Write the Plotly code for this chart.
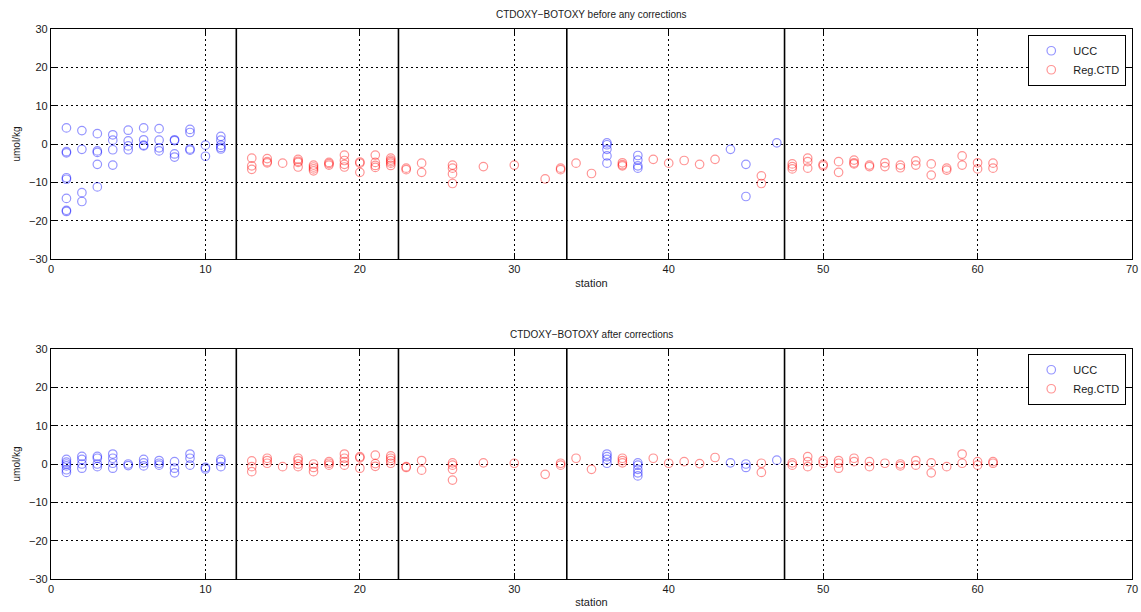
import plotly.graph_objects as go
from plotly.subplots import make_subplots

# ---------------- data (station, values) ----------------
ucc_before_stations = [1, 2, 3, 4, 5, 6, 7, 8, 9, 10, 11, 36, 38, 44, 45, 47]
ucc_before_values = [
    [4.2, -2.0, -2.3, -8.8, -9.2, -14.2, -17.3, -17.6],
    [3.5, -1.4, -12.7, -15.0],
    [2.7, -1.8, -2.2, -5.3, -11.2],
    [2.4, 1.0, -1.5, -5.5],
    [3.6, 0.8, -0.5, -1.5],
    [4.2, 1.1, -0.3, -0.5],
    [4.0, 1.0, -1.0, -1.8],
    [1.1, 0.9, -2.6, -3.4],
    [3.8, 3.0, -1.3, -1.6],
    [-0.3, -3.2],
    [2.0, 1.0, -0.3, -0.9, -1.3],
    [0.3, -0.2, -1.4, -3.1, -5.0],
    [-3.0, -4.2, -5.7, -6.3],
    [-1.4],
    [-5.3, -13.7],
    [0.3],
]
reg_before_stations = [13, 14, 15, 16, 17, 18, 19, 20, 21, 22, 23, 24, 26, 28, 30, 32,
                       33, 34, 35, 37, 39, 40, 41, 42, 43, 46, 48, 49, 50, 51, 52, 53,
                       54, 55, 56, 57, 58, 59, 60, 61]
reg_before_values = [
    [-3.7, -5.7, -6.6], [-3.8, -4.6, -4.9], [-5.0], [-4.0, -4.5, -4.8, -6.0],
    [-5.5, -6.0, -6.5, -7.0], [-4.8, -5.1, -5.5], [-2.9, -4.3, -5.3, -6.0],
    [-4.7, -5.0, -7.4], [-2.9, -4.8, -5.6, -6.1], [-3.7, -4.2, -4.6, -5.0, -5.6],
    [-6.3, -6.7], [-5.0, -7.4], [-5.5, -6.3, -7.8, -10.3], [-5.9], [-5.5], [-9.1],
    [-6.3, -6.7], [-5.0], [-7.7], [-4.9, -5.4, -5.7], [-4.0], [-5.0], [-4.3], [-5.3],
    [-4.0], [-8.3, -10.3], [-5.2, -5.9, -6.5], [-3.7, -4.6, -6.3], [-5.3, -5.7],
    [-4.6, -7.4], [-4.2, -4.9, -5.2], [-5.5, -5.9], [-4.9, -5.9], [-5.5, -6.2],
    [-4.4, -5.5], [-5.2, -8.1], [-6.3, -6.8], [-3.1, -5.5], [-4.9, -6.5], [-5.0, -6.3],
]

ucc_after_stations = [1, 2, 3, 4, 5, 6, 7, 8, 9, 10, 11, 36, 38, 44, 45, 47]
ucc_after_values = [
    [1.2, 0.5, 0.0, -0.5, -1.5, -2.2],
    [2.0, 1.2, 0.0, -1.1],
    [2.0, 1.5, 0.0, -0.7],
    [2.6, 1.5, 0.2, -1.1],
    [0.0, -0.4],
    [1.2, 0.3, -0.5],
    [0.9, 0.2, -0.3],
    [0.6, -1.1, -2.3],
    [2.6, 1.5, -0.3],
    [-0.9, -1.3],
    [1.2, 0.6, -0.7],
    [2.6, 1.9, 1.2, 0.2],
    [0.3, -0.3, -1.4, -2.3, -3.1],
    [0.3],
    [0.0, -0.9],
    [1.0],
]
reg_after_stations = reg_before_stations
reg_after_values = [
    [0.8, -0.7, -2.0], [1.5, 0.9, 0.2], [-0.7], [1.5, 0.9, 0.0, -0.7],
    [0.0, -0.9, -2.0], [0.6, 0.2, -0.3], [2.6, 1.5, 0.6, -0.3],
    [1.9, 1.6, -1.1], [2.3, 0.1, -0.6], [2.1, 1.5, 0.9, 0.2],
    [-0.7, -0.9], [0.9, -1.6], [0.3, -0.3, -1.4, -4.2], [0.3], [0.2], [-2.7],
    [0.2, -0.3], [1.5], [-1.4], [1.5, 0.9, 0.3], [1.5], [0.2], [0.6], [0.1],
    [1.7], [0.2, -2.2], [0.3, -0.3], [1.9, 0.6, -0.7], [0.9, 0.2],
    [0.9, 0.2, -1.1], [1.5, 0.6], [0.6, -0.7], [0.2], [0.0, -0.5],
    [0.9, -0.3], [0.3, -2.3], [-0.7], [2.6, 0.2], [0.6, -0.3], [0.6, 0.2],
]

group_boundaries = [12, 22.5, 33.4, 47.5]
titles = ["CTDOXY\u2212BOTOXY before any corrections", "CTDOXY\u2212BOTOXY after corrections"]
x_ticks = [0, 10, 20, 30, 40, 50, 60, 70]
y_ticks = [-30, -20, -10, 0, 10, 20, 30]
y_tick_text = ["\u221230", "\u221220", "\u221210", "0", "10", "20", "30"]


def expand(stations, values):
    xs, ys = [], []
    for s, vals in zip(stations, values):
        for v in vals:
            xs.append(s)
            ys.append(v)
    return xs, ys


BLUE = "rgba(0,0,255,0.42)"
RED = "rgba(255,0,0,0.42)"
FONT = "Liberation Sans, Arial, sans-serif"
TXT = "#1a1a1a"

fig = make_subplots(rows=2, cols=1, vertical_spacing=0.0)

panels = [
    (ucc_before_stations, ucc_before_values, reg_before_stations, reg_before_values, "legend"),
    (ucc_after_stations, ucc_after_values, reg_after_stations, reg_after_values, "legend2"),
]
for i, (us, uv, rs, rv, leg) in enumerate(panels, start=1):
    ux, uy = expand(us, uv)
    rx, ry = expand(rs, rv)
    fig.add_trace(go.Scatter(x=ux, y=uy, mode="markers", name="UCC", legend=leg,
                             marker=dict(symbol="circle-open", size=8.5, color=BLUE,
                                         line=dict(width=1.2, color=BLUE))), row=i, col=1)
    fig.add_trace(go.Scatter(x=rx, y=ry, mode="markers", name="Reg.CTD", legend=leg,
                             marker=dict(symbol="circle-open", size=8.5, color=RED,
                                         line=dict(width=1.2, color=RED))), row=i, col=1)
    for b in group_boundaries:
        fig.add_vline(x=b, line=dict(color="black", width=1.6), row=i, col=1)

axis_common = dict(showline=True, linecolor="black", linewidth=1.2, mirror="ticks",
                   ticks="inside", ticklen=6, tickcolor="black", tickwidth=1.2,
                   showgrid=True, gridcolor="black", griddash="2px,3px", gridwidth=1.2,
                   zeroline=False, automargin=False,
                   tickfont=dict(family=FONT, size=11, color=TXT))

for i in (1, 2):
    fig.update_xaxes(range=[0, 70], tickvals=x_ticks, **axis_common,
                     title=dict(text="station", font=dict(family=FONT, size=11, color=TXT),
                                standoff=4),
                     row=i, col=1)
    fig.update_yaxes(range=[-30, 30], tickvals=y_ticks, ticktext=y_tick_text, **axis_common,
                     title=dict(text="umol/kg", font=dict(family=FONT, size=10, color=TXT),
                                standoff=6),
                     row=i, col=1)

legend_common = dict(xanchor="right", yanchor="top",
                     bgcolor="white", bordercolor="black", borderwidth=1.2,
                     font=dict(family=FONT, size=11, color=TXT),
                     tracegroupgap=0, itemwidth=34)

fig.update_layout(
    width=1141, height=612,
    margin=dict(l=51, r=9, t=29, b=33, autoexpand=False),
    plot_bgcolor="white", paper_bgcolor="white",
    showlegend=True,
    xaxis=dict(domain=[0, 1]), yaxis=dict(domain=[0.5818, 1.0]),
    xaxis2=dict(domain=[0, 1]), yaxis2=dict(domain=[0.0, 0.4182]),
    legend=dict(x=0.9945, y=0.989, **legend_common),
    legend2=dict(x=0.9945, y=0.409, **legend_common),
    annotations=[
        dict(text=titles[0], x=0.5, xref="paper", y=1.0, yref="paper", yshift=15,
             yanchor="middle", showarrow=False, font=dict(family=FONT, size=10, color=TXT)),
        dict(text=titles[1], x=0.5, xref="paper", y=0.4182, yref="paper", yshift=14,
             yanchor="middle", showarrow=False, font=dict(family=FONT, size=10, color=TXT)),
    ],
)

fig.write_html("out.html")
